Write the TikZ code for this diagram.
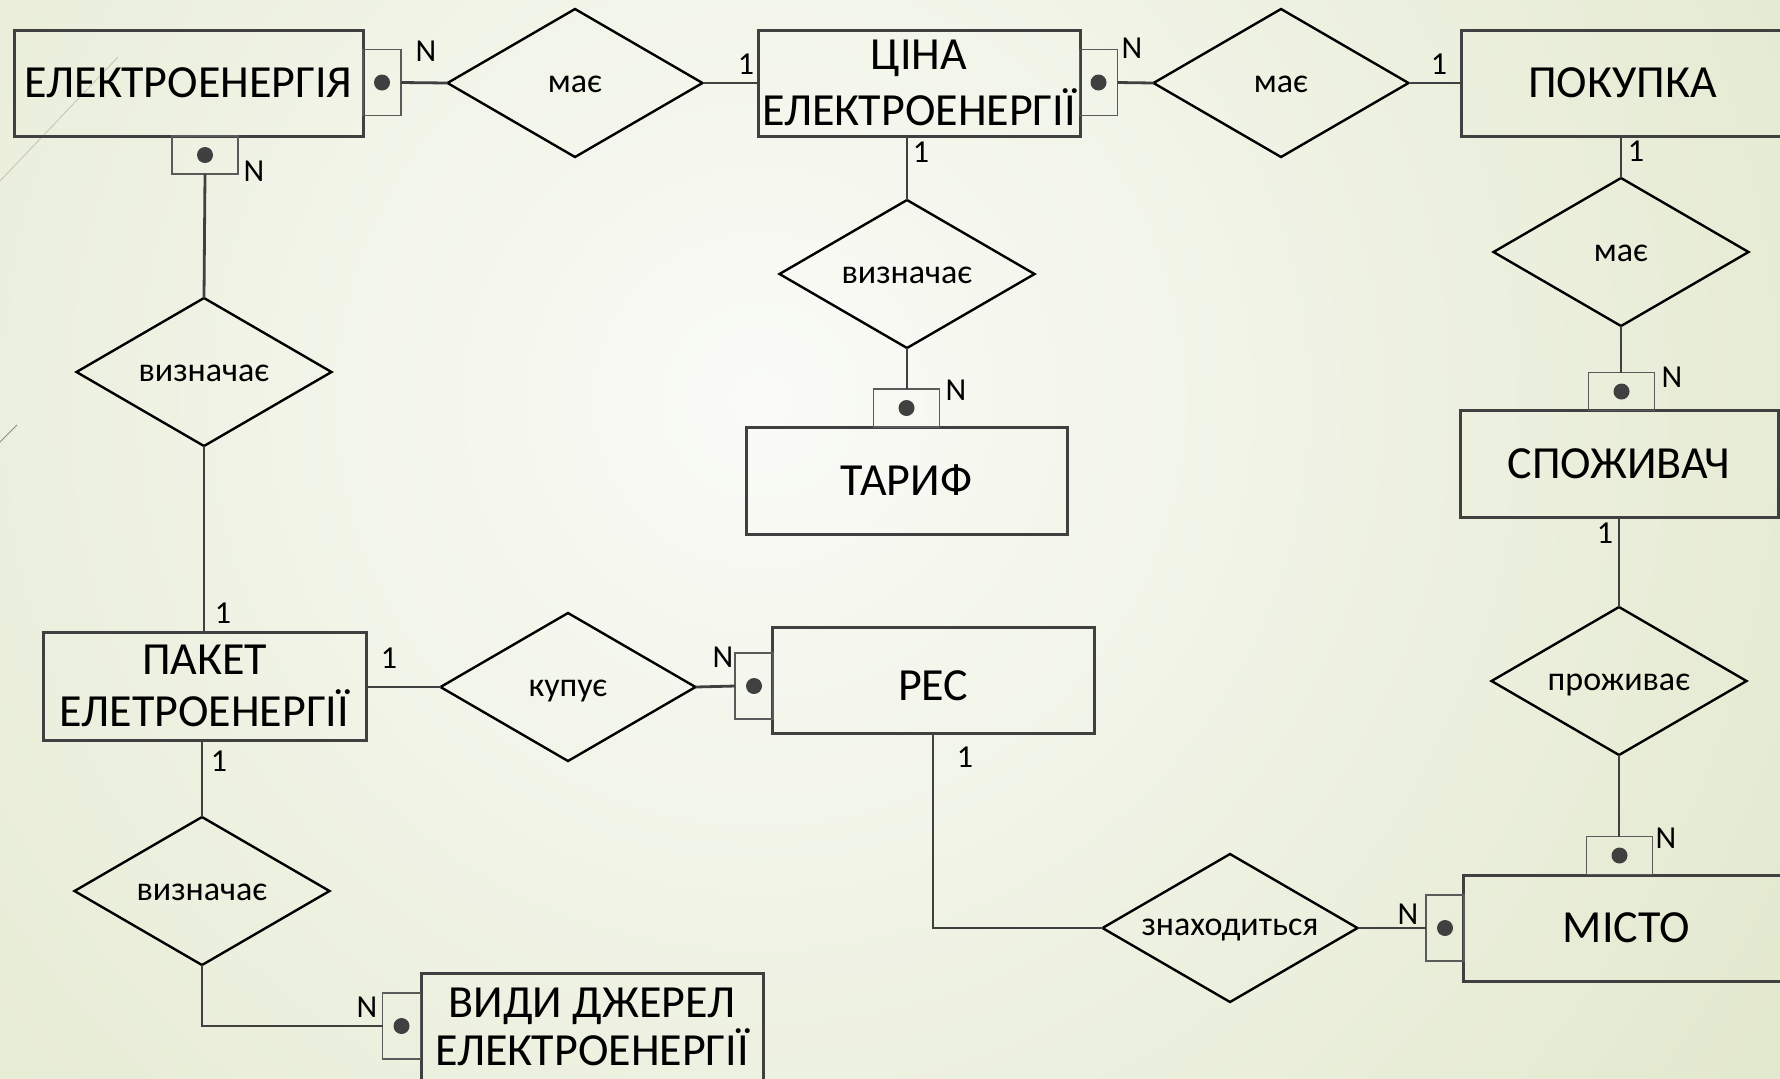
\documentclass[tikz,border=0pt]{standalone}
\usepackage{fontspec}
\setmainfont{Carlito}
\usetikzlibrary{shapes.geometric}
\definecolor{bgin}{HTML}{FAFBF7}
\definecolor{bgout}{HTML}{E2E8CD}
\definecolor{edgec}{HTML}{404040}
\definecolor{sedge}{HTML}{5A5A5A}
\definecolor{decoA}{HTML}{C9CABA}
\definecolor{decoB}{HTML}{8E8E7C}
\begin{document}
\begin{tikzpicture}[x=0.5pt,y=-0.5pt,
  entity/.style={draw=edgec, line width=1.5pt, inner sep=0pt, outer sep=0pt, font=\fontsize{23}{27}\selectfont, align=center},
  hsbox/.style={draw=sedge, line width=0.9pt, inner sep=0pt, outer sep=0pt, minimum width=33pt, minimum height=19pt},
  vsbox/.style={draw=sedge, line width=0.9pt, inner sep=0pt, outer sep=0pt, minimum width=19pt, minimum height=33pt},
  rel/.style={diamond, shape aspect=1.72, draw=black, line width=1.2pt, inner sep=0pt, outer sep=0pt,
    minimum width=127.5pt, minimum height=74pt, font=\fontsize{17}{20}\selectfont, text height=9.6pt, text depth=0pt},
  conn/.style={draw=edgec, line width=1.4pt},
  lab/.style={inner sep=0pt, font=\fontsize{16}{18}\selectfont, text depth=0pt}
]
% background
\begin{scope}
  \clip (0,0) rectangle (1780,1078);
  \fill[bgout] (0,0) rectangle (1780,1078);
  \shade[inner color=bgin, outer color=bgout] (760,400) circle (1250);
  \draw[decoA, line width=0.5pt] (0,181) -- (118,57);
  \draw[decoB, line width=0.5pt] (0,442) -- (17,425);
\end{scope}
\useasboundingbox (0,0) rectangle (1780,1078);

% entities
\node[entity, minimum width=174.5pt, minimum height=53pt] (el) at (188.5,83) {ЕЛЕКТРОЕНЕРГІЯ};
\node[entity, minimum width=161pt, minimum height=53pt, font=\fontsize{23}{28}\selectfont] (cina) at (919,83) {ЦІНА\\ЕЛЕКТРОЕНЕРГІЇ};
\node[entity, minimum width=161.5pt, minimum height=53pt] (pok) at (1622.5,83) {ПОКУПКА};
\node[entity, minimum width=159pt, minimum height=53.5pt] (spoz) at (1619,463.5) {СПОЖИВАЧ};
\node[entity, minimum width=163.5pt, minimum height=53pt] (misto) at (1626.5,928) {МІСТО};
\node[entity, minimum width=160.5pt, minimum height=53.5pt] (taryf) at (906.5,480.5) {ТАРИФ};
\node[entity, minimum width=161.5pt, minimum height=54pt, font=\fontsize{23}{26}\selectfont] (paket) at (204.5,686) {ПАКЕТ\\ЕЛЕТРОЕНЕРГІЇ};
\node[entity, minimum width=161pt, minimum height=53pt, text height=20.8pt, text depth=0pt] (res) at (933,680) {РЕС};
\node[entity, minimum width=171pt, minimum height=54pt, font=\fontsize{23}{24}\selectfont] (vydy) at (592,1027) {ВИДИ ДЖЕРЕЛ\\ЕЛЕКТРОЕНЕРГІЇ};

% small boxes
\node[vsbox] (s1) at (382,82.5) {};
\node[hsbox] (s2) at (205,155) {};
\node[vsbox] (s3) at (1098.5,82.5) {};
\node[hsbox] (s4) at (906.5,408) {};
\node[hsbox] (s5) at (1621.5,391.5) {};
\node[hsbox] (s6) at (1619.5,855.5) {};
\node[vsbox] (s7) at (1445,928) {};
\node[vsbox] (s8) at (754,686) {};
\node[vsbox] (s9) at (401.5,1026) {};
\foreach \s in {s1,s2,s3,s4,s5,s6,s7,s8,s9}
  \fill[edgec] (\s.center) circle (8);

% relationships
\node[rel] (m1) at (575,83) {має};
\node[rel] (m2) at (1281,83) {має};
\node[rel] (m3) at (1621,252) {має};
\node[rel] (pr) at (1619,681) {проживає};
\node[rel, text height=7.4pt] (zn) at (1230,928) {знаходиться};
\node[rel] (vc) at (907,274) {визначає};
\node[rel] (v1) at (204,372) {визначає};
\node[rel] (v2) at (202,891) {визначає};
\node[rel] (ku) at (568,687) {купує};

% connectors
\draw[conn] (s1.east) -- (m1.west);
\draw[conn] (m1.east) -- (cina.west);
\draw[conn] (s3.east) -- (m2.west);
\draw[conn] (m2.east) -- (pok.west);
\draw[conn] (m3.north) -- (m3.north |- pok.south);
\draw[conn] (m3.south) -- (m3.south |- s5.north);
\draw[conn] (pr.north) -- (pr.north |- spoz.south);
\draw[conn] (pr.south) -- (pr.south |- s6.north);
\draw[conn] (zn.east) -- (s7.west);
\draw[conn] (res.south) |- (zn.west);
\draw[conn] (paket.east |- ku.west) -- (ku.west);
\draw[conn] (ku.east) -- (s8.west);
\draw[conn] (vc.north) -- (vc.north |- cina.south);
\draw[conn] (vc.south) -- (vc.south |- s4.north);
\draw[conn] (s2.south) -- (v1.north);
\draw[conn] (v1.south) -- (v1.south |- paket.north);
\draw[conn] (v2.north) -- (v2.north |- paket.south);
\draw[conn] (v2.south) |- (s9.west);

% cardinality labels
\node[lab] (l1) at (426,51) {N};
\node[lab] (l2) at (746,64) {1};
\node[lab] (l3) at (1132,48) {N};
\node[lab] (l4) at (1439,64) {1};
\node[lab] (l5) at (1636,151) {1};
\node[lab] (l6) at (1672,377) {N};
\node[lab] (l7) at (1605,533) {1};
\node[lab] (l8) at (1666,838) {N};
\node[lab] (l9) at (1408,914) {N};
\node[lab] (l10) at (965,757) {1};
\node[lab] (l11) at (723,657) {N};
\node[lab] (l12) at (389,658) {1};
\node[lab] (l13) at (223,613) {1};
\node[lab] (l14) at (219,761) {1};
\node[lab] (l15) at (367,1007) {N};
\node[lab] (l16) at (921,152) {1};
\node[lab] (l17) at (956,390) {N};
\node[lab] (l18) at (254,171) {N};
\end{tikzpicture}
\end{document}
